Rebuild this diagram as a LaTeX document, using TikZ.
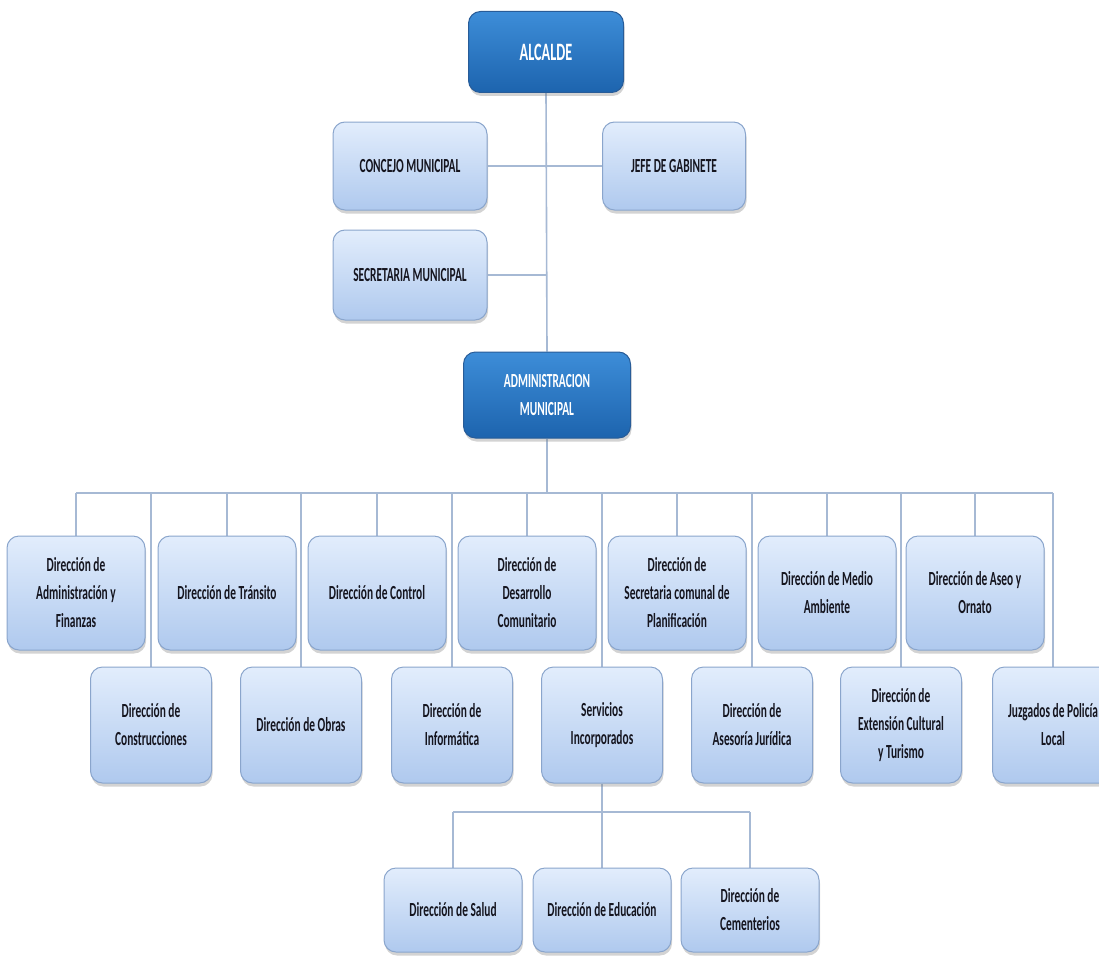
\documentclass[tikz,border=0pt]{standalone}
\usepackage{fontspec}
\newfontfamily\boxfont{Carlito}[FakeStretch=0.57]
\usetikzlibrary{shadows,backgrounds}
\definecolor{lbtop}{HTML}{E2EDFC}
\definecolor{lbbot}{HTML}{AFC9EE}
\definecolor{lbdraw}{HTML}{8AA5CC}
\definecolor{dbtop}{HTML}{3D8DD8}
\definecolor{dbbot}{HTML}{1D64AE}
\definecolor{dbdraw}{HTML}{285C98}
\definecolor{conn}{HTML}{A6B9D4}
\definecolor{txt}{HTML}{15151F}
\tikzset{
  basebox/.style={rectangle, rounded corners=12pt, line width=1pt, align=center, inner sep=0pt,
    drop shadow={opacity=0.35, shadow xshift=1pt, shadow yshift=-3.5pt}},
  lightbox/.style={basebox, draw=lbdraw, top color=lbtop, bottom color=lbbot, text=txt,
    font=\boxfont\bfseries\fontsize{20}{28}\selectfont},
  darkbox/.style={basebox, draw=dbdraw, top color=dbtop, bottom color=dbbot, text=white,
    font=\boxfont\bfseries\fontsize{20}{28}\selectfont},
  conline/.style={draw=conn, line width=1.6pt},
}
\begin{document}
\begin{tikzpicture}[x=1pt,y=-1pt]
\path[use as bounding box, clip] (0,0) rectangle (1099,955);
% top levels
\node[darkbox, minimum width=155pt, minimum height=81pt, font=\boxfont\bfseries\fontsize{25}{28}\selectfont] (alcalde) at (546,52) {ALCALDE};
\node[lightbox, minimum width=154pt, minimum height=88pt] (concejo) at (410,166) {CONCEJO MUNICIPAL};
\node[lightbox, minimum width=143pt, minimum height=88pt] (jefe) at (674,166) {JEFE DE GABINETE};
\node[lightbox, minimum width=154pt, minimum height=90pt] (secretaria) at (410,275) {SECRETARIA MUNICIPAL};
\node[darkbox, minimum width=167pt, minimum height=86pt] (admin) at (547,395) {ADMINISTRACION\\MUNICIPAL};
% top row
\tikzset{toprow/.style={lightbox, minimum width=138pt, minimum height=114pt}}
\node[toprow] (t1) at (76,593) {Dirección de\\Administración y\\Finanzas};
\node[toprow] (t2) at (227,593) {Dirección de Tránsito};
\node[toprow] (t3) at (377,593) {Dirección de Control};
\node[toprow] (t4) at (527,593) {Dirección de\\Desarrollo\\Comunitario};
\node[toprow] (t5) at (677,593) {Dirección de\\Secretaria comunal de\\Planificación};
\node[toprow] (t6) at (827,593) {Dirección de Medio\\Ambiente};
\node[toprow] (t7) at (975,593) {Dirección de Aseo y\\Ornato};
% bottom row
\tikzset{botrow/.style={lightbox, minimum width=121pt, minimum height=116pt}}
\node[botrow] (b1) at (151,725) {Dirección de\\Construcciones};
\node[botrow] (b2) at (301,725) {Dirección de Obras};
\node[botrow] (b3) at (452,725) {Dirección de\\Informática};
\node[botrow] (b4) at (602,725) {Servicios\\Incorporados};
\node[botrow] (b5) at (752,725) {Dirección de\\Asesoría Jurídica};
\node[botrow] (b6) at (901,725) {Dirección de\\Extensión Cultural\\y Turismo};
\node[botrow] (b7) at (1053,725) {Juzgados de Policía\\Local};
% lowest row
\tikzset{lowrow/.style={lightbox, minimum width=138pt, minimum height=84pt}}
\node[lowrow] (s1) at (453,910) {Dirección de Salud};
\node[lowrow] (s2) at (602,910) {Dirección de Educación};
\node[lowrow] (s3) at (750,910) {Dirección de\\Cementerios};
% connectors
\coordinate (busL) at (76,493);
\coordinate (busR) at (1053,493);
\coordinate (sbus) at (602,812);
\begin{scope}[on background layer]
\draw[conline] (alcalde.south) -- (admin.north);
\draw[conline] (concejo.east) -- (jefe.west);
\draw[conline] (secretaria.east) -- (secretaria.east -| alcalde.south);
\draw[conline] (admin.south) -- (admin.south |- busL);
\draw[conline] (busL) -- (busR);
\foreach \n in {t1,t2,t3,t4,t5,t6,t7,b1,b2,b3,b4,b5,b6,b7}
  \draw[conline] (\n.north |- busL) -- (\n.north);
\draw[conline] (b4.south) -- (sbus);
\draw[conline] (s1.north |- sbus) -- (s3.north |- sbus);
\foreach \n in {s1,s2,s3}
  \draw[conline] (\n.north |- sbus) -- (\n.north);
\end{scope}
\end{tikzpicture}
\end{document}
